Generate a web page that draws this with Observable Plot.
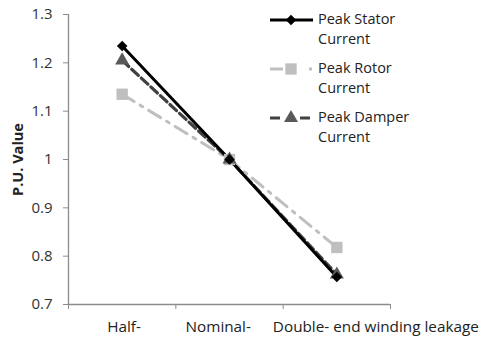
<!DOCTYPE html>
<html>
<head>
<meta charset="utf-8">
<script src="https://cdn.jsdelivr.net/npm/d3@7"></script>
<script src="https://cdn.jsdelivr.net/npm/@observablehq/plot@0.6"></script>
<style>
  html, body { margin: 0; padding: 0; background: #fff; }
  #wrap { position: relative; width: 480px; height: 338px; font-family: "Open Sans", sans-serif; }
  #legend { position: absolute; left: 268px; top: 9px; font-size: 14.5px; color: #222; line-height: 20px; }
  .item { display: flex; align-items: flex-start; margin-bottom: 9px; }
  .item svg { flex: none; margin-top: 1px; }
  .item span { display: block; }
</style>
</head>
<body>
<div id="wrap"><div id="legend"></div></div>
<script>
// Winding-leakage cases on the x axis
const categories = ["Half-", "Nominal-", "Double- end winding leakage"];
// Per-unit peak currents for each case
const statorValues = [1.235, 1.0, 0.757];
const rotorValues  = [1.135, 1.0, 0.818];
const damperValues = [1.205, 1.0, 0.762];
const yTicks = [0.7, 0.8, 0.9, 1.0, 1.1, 1.2, 1.3];
const seriesNames = ["Peak Stator Current", "Peak Rotor Current", "Peak Damper Current"];

const seriesStyle = [
  {name: seriesNames[0], values: statorValues, stroke: "#000000", dash: null, width: 3, symbol: "square", rotate: 45, r: 4.2, fill: "#000000"},
  {name: seriesNames[1], values: rotorValues, stroke: "#bfbfbf", dash: "14,7,3,7", width: 3, symbol: "square", rotate: 0, r: 6.4, fill: "#bfbfbf"},
  {name: seriesNames[2], values: damperValues, stroke: "#404040", dash: "9,4", width: 3.2, symbol: "triangle", rotate: 0, r: 5.2, fill: "#595959"}
];

const rows = seriesStyle.flatMap((s, si) => s.values.map((v, i) => ({series: si, i, v})));
// horizontal offset of each category label's left edge from its category position
const labelShift = [-15, -44, -64];

const marks = [
  Plot.ruleX([-0.5], {stroke: "#8c8c8c", strokeWidth: 1.3}),
  Plot.ruleY([0.7], {stroke: "#8c8c8c", strokeWidth: 1.3}),
  Plot.axisY({ticks: yTicks, tickFormat: "~g", tickSize: 5, tickPadding: 11, stroke: "#8c8c8c", fontSize: 15, fill: "#333", label: null}),
  Plot.axisX({ticks: [-0.5, 0.5, 1.5, 2.5], tickFormat: () => "", tickSize: 5, stroke: "#8c8c8c", label: null}),
  ...categories.map((c, i) => Plot.text([c], {x: () => i, y: () => 0.7, dy: 23, dx: labelShift[i], text: d => d, textAnchor: "start", fontSize: 15.3, fill: "#222"})),
  Plot.text(["P.U. Value"], {frameAnchor: "left", textAnchor: "middle", dx: -50, dy: 0, rotate: -90, fontWeight: "bold", fontSize: 14.5, fill: "#222", text: d => d})
];

// Draw rotor first, then damper, then stator on top
for (const si of [1, 2, 0]) {
  const s = seriesStyle[si];
  const data = rows.filter(d => d.series === si);
  marks.push(Plot.line(data, {x: "i", y: "v", stroke: s.stroke, strokeWidth: s.width, strokeDasharray: s.dash}));
}
for (const si of [1, 2, 0]) {
  const s = seriesStyle[si];
  const data = rows.filter(d => d.series === si);
  marks.push(Plot.dot(data, {x: "i", y: "v", symbol: () => s.symbol, r: s.r, rotate: s.rotate, fill: s.fill, stroke: "none"}));
}

const chart = Plot.plot({
  width: 480,
  height: 338,
  marginLeft: 68,
  marginRight: 90,
  marginTop: 14,
  marginBottom: 34,
  style: {fontFamily: "'Open Sans', sans-serif", fontSize: "14px", background: "#fff", overflow: "visible"},
  x: {type: "linear", domain: [-0.5, 2.5], axis: null},
  y: {domain: [0.7, 1.3], axis: null},
  marks
});
document.getElementById("wrap").prepend(chart);

// Legend: one swatch per series with line style and marker
const legend = d3.select("#legend");
seriesStyle.forEach((s, si) => {
  const item = legend.append("div").attr("class", "item");
  const svg = item.append("svg").attr("width", 50).attr("height", 20);
  if (si === 0) {
    svg.append("line").attr("x1", 2).attr("x2", 45).attr("y1", 10).attr("y2", 10)
      .attr("stroke", s.stroke).attr("stroke-width", 3);
  } else if (si === 1) {
    svg.append("line").attr("x1", 2).attr("x2", 15).attr("y1", 10).attr("y2", 10)
      .attr("stroke", s.stroke).attr("stroke-width", 3);
    svg.append("line").attr("x1", 41).attr("x2", 44).attr("y1", 10).attr("y2", 10)
      .attr("stroke", s.stroke).attr("stroke-width", 3);
  } else {
    svg.append("line").attr("x1", 2).attr("x2", 12).attr("y1", 10).attr("y2", 10)
      .attr("stroke", s.stroke).attr("stroke-width", 3);
    svg.append("line").attr("x1", 32).attr("x2", 42).attr("y1", 10).attr("y2", 10)
      .attr("stroke", s.stroke).attr("stroke-width", 3);
  }
  const sym = s.symbol === "triangle" ? d3.symbolTriangle : d3.symbolSquare;
  svg.append("path")
    .attr("d", d3.symbol(sym, Math.PI * s.r * s.r)())
    .attr("transform", `translate(23,10) rotate(${s.rotate})`)
    .attr("fill", s.fill);
  const words = s.name.split(" ");
  const text = item.append("div");
  text.append("span").text(words.slice(0, 2).join(" "));
  text.append("span").text(words.slice(2).join(" "));
});
</script>
</body>
</html>
